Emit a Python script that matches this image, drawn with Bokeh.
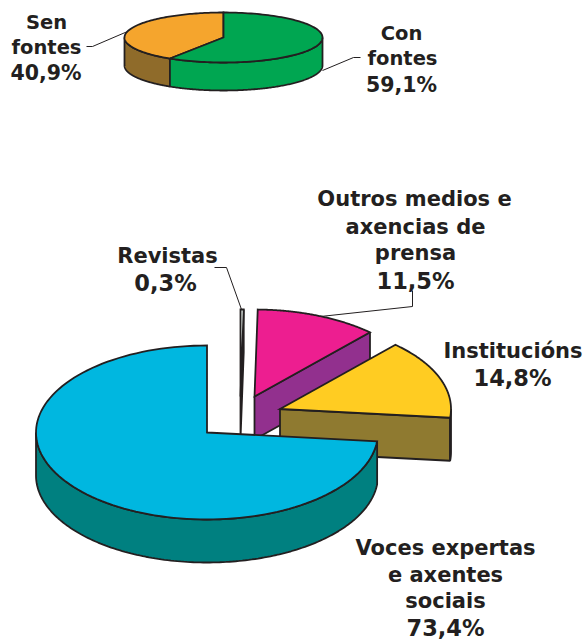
import numpy as np
from bokeh.plotting import figure
from bokeh.embed import file_html
from bokeh.resources import INLINE
from bokeh.core.properties import value

# ---- data ----
top_names = ["Con fontes", "Sen fontes"]
top_values = [59.1, 40.9]
top_face = ["#00A651", "#F5A52D"]
top_side = ["#00A651", "#8F6B2A"]

main_names = ["Revistas", "Outros medios e axencias de prensa", "Institucións", "Voces expertas e axentes sociais"]
main_values = [0.3, 11.5, 14.8, 73.4]
main_face = ["#E8F0EC", "#ED1E90", "#FFCC22", "#00B7E0"]
main_side = ["#23352F", "#92308E", "#8F7A30", "#008080"]

# text lines: (text, centre x, y)
labels_small = [("Sen", 46, 22), ("fontes", 46, 47), ("Con", 401, 33), ("fontes", 402, 58)]
pct_small = [("40,9%", 45.5, 72), ("59,1%", 401, 84)]
labels_big = [("Outros medios e", 414, 198), ("axencias de", 415, 226), ("prensa", 415, 252),
              ("Revistas", 167, 255),
              ("Institucións", 512.5, 350),
              ("Voces expertas", 445, 547), ("e axentes", 445, 574), ("sociais", 445, 600)]
pct_big = [("11,5%", 415, 280), ("0,3%", 165, 282), ("14,8%", 512, 377), ("73,4%", 445, 627)]

leaders = [([86, 92, 127], [46, 46, 31]),
           ([360, 353, 322], [57, 57, 70]),
           ([214, 226, 241], [267, 267, 309]),
           ([320, 412, 412], [316, 306, 290])]

# ---- layout ----
W, H = 587, 641
INK = "#231F20"

p = figure(width=W, height=H, x_range=(0, W), y_range=(H, 0),
           output_backend="svg", toolbar_location=None, min_border=0)
p.axis.visible = False
p.grid.visible = False
p.outline_line_color = None
p.background_fill_color = "white"


def pt(cx, cy, rx, ry, a):
    a = np.radians(a)
    return cx + rx * np.sin(a), cy - ry * np.cos(a)


def wedge(cx, cy, rx, ry, depth, a0, a1, face, side, lw=1.8, cut=True):
    ang = np.linspace(a0, a1, 120)
    x, y = pt(cx, cy, rx, ry, ang)
    # cut face at the end of the wedge (seen when it turns to the viewer)
    if cut:
        ex, ey = pt(cx, cy, rx, ry, a1)
        p.patch([cx, ex, ex, cx], [cy, ey, ey + depth, cy + depth],
                fill_color=side, line_color=INK, line_width=lw)
    # outer wall, only the front half of the ellipse
    lo, hi = max(a0, 90), min(a1, 270)
    if hi > lo:
        w = np.linspace(lo, hi, 160)
        wx, wy = pt(cx, cy, rx, ry, w)
        p.patch(np.r_[wx, wx[::-1]], np.r_[wy, wy[::-1] + depth],
                fill_color=side, line_color=INK, line_width=lw)
    p.patch(np.r_[cx, x], np.r_[cy, y], fill_color=face, line_color=INK, line_width=lw,
            line_join="miter")


def cumulative(vals):
    e = np.cumsum(vals) / np.sum(vals) * 360
    return np.r_[0, e[:-1]], e


# upper pie
s, e = cumulative(top_values)
for i in [1, 0]:
    wedge(223, 37, 99, 25, 28, s[i], e[i], top_face[i], top_side[i], cut=False)

# lower, exploded pie: each slice has its own offset apex
apex = [(240, 396), (254, 396), (279.5, 408.5), (206.5, 432)]
s, e = cumulative(main_values)
for i in range(4):
    wedge(apex[i][0], apex[i][1], 171, 87, 43, s[i], e[i], main_face[i], main_side[i],
          cut=i != 3)

for lx, ly in leaders:
    p.line(lx, ly, line_color=INK, line_width=1)

for rows, size in ((labels_small, "19.5px"), (pct_small, "20.5px"),
                   (labels_big, "21px"), (pct_big, "22.5px")):
    p.text([r[1] for r in rows], [r[2] for r in rows], text=[r[0] for r in rows],
           text_align="center", text_baseline="middle",
           text_font=value("DejaVu Sans"), text_font_style="bold",
           text_font_size=size, text_color=INK)

open("out.html", "w").write(file_html(p, INLINE))
